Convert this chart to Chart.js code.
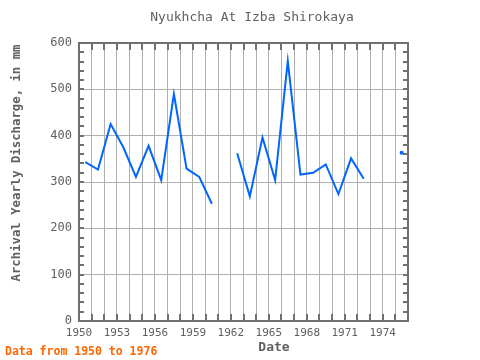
<!DOCTYPE html>
<html><head><meta charset="utf-8">
<script src="https://cdn.jsdelivr.net/npm/chart.js@4/dist/chart.umd.min.js"></script>
<style>html,body{margin:0;padding:0;background:#fff}</style>
</head><body>
<canvas id="c" width="480" height="360"></canvas>
<script>
const years = [1950,1951,1952,1953,1954,1955,1956,1957,1958,1959,1960,1961,1962,1963,1964,1965,1966,1967,1968,1969,1970,1971,1972,1973,1974,1975];
const discharge = [343,327,425,375,311,378,304,490,329,311,253,null,362,269,396,304,561,316,320,338,274,351,307,null,null,363];
const xTickLabels = [1950,1953,1956,1959,1962,1965,1968,1971,1974];
const yTickLabels = [0,100,200,300,400,500,600];
const chartTitle = 'Nyukhcha At Izba Shirokaya';
const xTitle = 'Date';
const yTitle = 'Archival Yearly Discharge, in mm';
const footnote = 'Data from 1950 to 1976';

const MONO = '"DejaVu Sans Mono", "Liberation Mono", monospace';
const points = years.map((y, i) => ({x: y + 0.5, y: discharge[i]}));
const radii = discharge.map((v, i) => (v !== null && (i === 0 || discharge[i-1] === null) && (i === discharge.length-1 || discharge[i+1] === null)) ? 2 : 0);

const decor = {
  id: 'decor',
  afterDraw(chart) {
    const ctx = chart.ctx, a = chart.chartArea;
    const xs = chart.scales.x, ys = chart.scales.y;
    ctx.save();
    // inward tick marks
    ctx.strokeStyle = '#707070';
    ctx.lineWidth = 2;
    ctx.beginPath();
    for (let yr = 1950; yr <= 1976; yr++) {
      const px = Math.round(xs.getPixelForValue(yr));
      ctx.moveTo(px, a.bottom); ctx.lineTo(px, a.bottom - 7);
      ctx.moveTo(px, a.top); ctx.lineTo(px, a.top + 7);
    }
    for (let v = 0; v <= 600; v += 20) {
      const py = Math.round(ys.getPixelForValue(v));
      ctx.moveTo(a.left, py); ctx.lineTo(a.left + 5, py);
      ctx.moveTo(a.right, py); ctx.lineTo(a.right - 5, py);
    }
    ctx.stroke();
    // frame
    ctx.strokeRect(a.left, a.top, a.right - a.left, a.bottom - a.top);
    // texts
    ctx.fillStyle = '#606060';
    ctx.textAlign = 'center';
    ctx.textBaseline = 'middle';
    ctx.font = '13px ' + MONO;
    ctx.fillText(chartTitle, 252, 18);
    ctx.font = 'bold 13px ' + MONO;
    ctx.fillText(xTitle, 274, 348);
    ctx.save();
    ctx.translate(17, 163);
    ctx.rotate(-Math.PI / 2);
    ctx.font = 'bold 12.3px ' + MONO;
    ctx.fillText(yTitle, 0, 0);
    ctx.restore();
    ctx.fillStyle = '#ff6600';
    ctx.textAlign = 'left';
    ctx.font = 'bold 11.5px ' + MONO;
    ctx.fillText(footnote, 5, 352);
    ctx.restore();
  }
};

new Chart(document.getElementById('c'), {
  type: 'line',
  data: {
    datasets: [{
      data: points,
      borderColor: '#0066ff',
      backgroundColor: '#0066ff',
      borderWidth: 2,
      pointRadius: radii,
      pointBorderWidth: 0,
      spanGaps: false,
      tension: 0,
      fill: false
    }]
  },
  options: {
    responsive: false,
    animation: false,
    devicePixelRatio: 1,
    layout: {padding: {left: 0, top: 43, right: 72, bottom: 0}},
    plugins: {legend: {display: false}, title: {display: false}, tooltip: {enabled: false}},
    scales: {
      x: {
        type: 'linear', min: 1950, max: 1976,
        afterBuildTicks(s) {
          const t = [];
          for (let yr = 1950; yr <= 1976; yr++) t.push({value: yr});
          s.ticks = t;
        },
        afterFit(s) { s.height = 39; },
        ticks: {
          autoSkip: false, maxRotation: 0, minRotation: 0, padding: 6,
          color: '#606060', font: {family: MONO, size: 11},
          callback: v => xTickLabels.includes(v) ? String(v) : ''
        },
        grid: {color: '#b0b0b0', lineWidth: 1, drawTicks: false},
        border: {display: false}
      },
      y: {
        min: 0, max: 600,
        afterBuildTicks(s) { s.ticks = yTickLabels.map(v => ({value: v})); },
        afterFit(s) { s.width = 79; },
        ticks: {padding: 7, color: '#606060', font: {family: MONO, size: 12}},
        grid: {color: '#b0b0b0', lineWidth: 1, drawTicks: false},
        border: {display: false}
      }
    }
  },
  plugins: [decor]
});
</script>
</body></html>
